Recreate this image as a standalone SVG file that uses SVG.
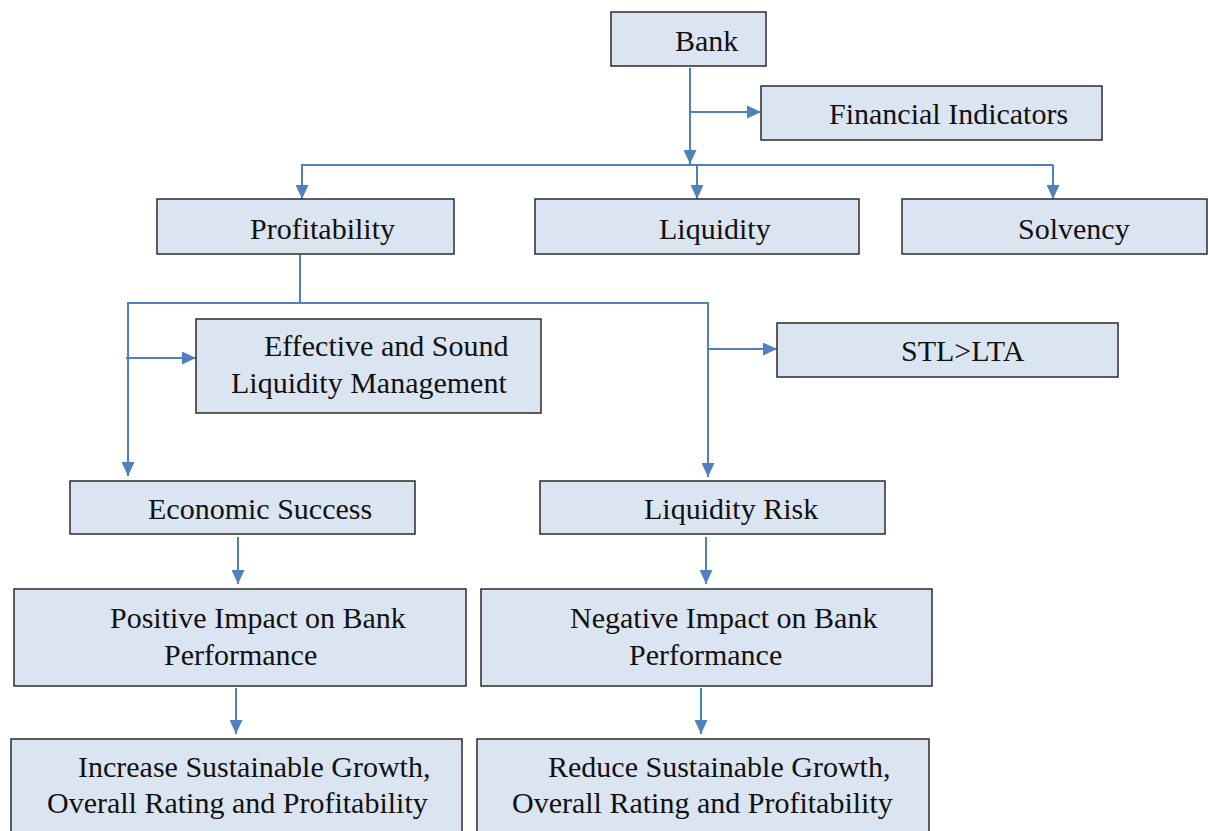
<svg xmlns="http://www.w3.org/2000/svg" width="1208" height="831" viewBox="0 0 1208 831">
<style>
.box{fill:#dbe5f1;stroke:#2b2b2b;stroke-width:1.5}
.t{font-family:'Liberation Serif','Times New Roman','DejaVu Serif',serif;font-size:30px;fill:#111}
.c{stroke:#4f81bd;stroke-width:2;fill:none}
.a{marker-end:url(#ah)}
</style>
<defs>
<marker id="ah" markerUnits="userSpaceOnUse" markerWidth="14" markerHeight="13" refX="14" refY="6.5" orient="auto">
<path d="M0,0 L14,6.5 L0,13 z" fill="#4f81bd"/>
</marker>
</defs>
<rect width="1208" height="831" fill="#fff"/>
<g id="connectors">
<line class="c a" x1="690" y1="68" x2="690" y2="164"/>
<line class="c a" x1="690" y1="112" x2="761" y2="112"/>
<line class="c" x1="301" y1="165" x2="1053" y2="165"/>
<line class="c a" x1="302" y1="165" x2="302" y2="199"/>
<line class="c a" x1="697" y1="165" x2="697" y2="199"/>
<line class="c a" x1="1053" y1="165" x2="1053" y2="199"/>
<line class="c" x1="300" y1="255" x2="300" y2="303"/>
<line class="c" x1="127" y1="303" x2="709" y2="303"/>
<line class="c a" x1="128" y1="303" x2="128" y2="476"/>
<line class="c a" x1="126" y1="358" x2="196" y2="358"/>
<line class="c a" x1="708" y1="303" x2="708" y2="477"/>
<line class="c a" x1="708" y1="349" x2="777" y2="349"/>
<line class="c a" x1="238" y1="537" x2="238" y2="584"/>
<line class="c a" x1="706" y1="537" x2="706" y2="584"/>
<line class="c a" x1="236" y1="688" x2="236" y2="734"/>
<line class="c a" x1="701" y1="688" x2="701" y2="734"/>
</g>
<g id="bank"><rect class="box" x="611" y="12" width="155" height="54"/><text class="t" x="675" y="51">Bank</text></g>
<g id="financial-indicators"><rect class="box" x="761" y="86" width="341" height="54"/><text class="t" x="829" y="124">Financial Indicators</text></g>
<g id="profitability"><rect class="box" x="157" y="199" width="297" height="55"/><text class="t" x="250" y="239">Profitability</text></g>
<g id="liquidity"><rect class="box" x="535" y="199" width="324" height="55"/><text class="t" x="659" y="239">Liquidity</text></g>
<g id="solvency"><rect class="box" x="902" y="199" width="305" height="55"/><text class="t" x="1018" y="239">Solvency</text></g>
<g id="effective"><rect class="box" x="196" y="319" width="345" height="94"/><text class="t" x="264" y="356">Effective and Sound</text><text class="t" x="231" y="393">Liquidity Management</text></g>
<g id="stl-lta"><rect class="box" x="777" y="323" width="341" height="54"/><text class="t" x="901" y="361">STL&gt;LTA</text></g>
<g id="economic-success"><rect class="box" x="70" y="481" width="345" height="53"/><text class="t" x="148" y="519">Economic Success</text></g>
<g id="liquidity-risk"><rect class="box" x="540" y="481" width="345" height="53"/><text class="t" x="644" y="519">Liquidity Risk</text></g>
<g id="positive-impact"><rect class="box" x="14" y="589" width="452" height="97"/><text class="t" x="110" y="628">Positive Impact on Bank</text><text class="t" x="164" y="665">Performance</text></g>
<g id="negative-impact"><rect class="box" x="481" y="589" width="451" height="97"/><text class="t" x="570" y="628">Negative Impact on Bank</text><text class="t" x="629" y="665">Performance</text></g>
<g id="increase"><rect class="box" x="11" y="739" width="451" height="100"/><text class="t" x="78" y="777">Increase Sustainable Growth,</text><text class="t" x="47" y="813">Overall Rating and Profitability</text></g>
<g id="reduce"><rect class="box" x="477" y="739" width="452" height="100"/><text class="t" x="548" y="777">Reduce Sustainable Growth,</text><text class="t" x="512" y="813">Overall Rating and Profitability</text></g>
</svg>
